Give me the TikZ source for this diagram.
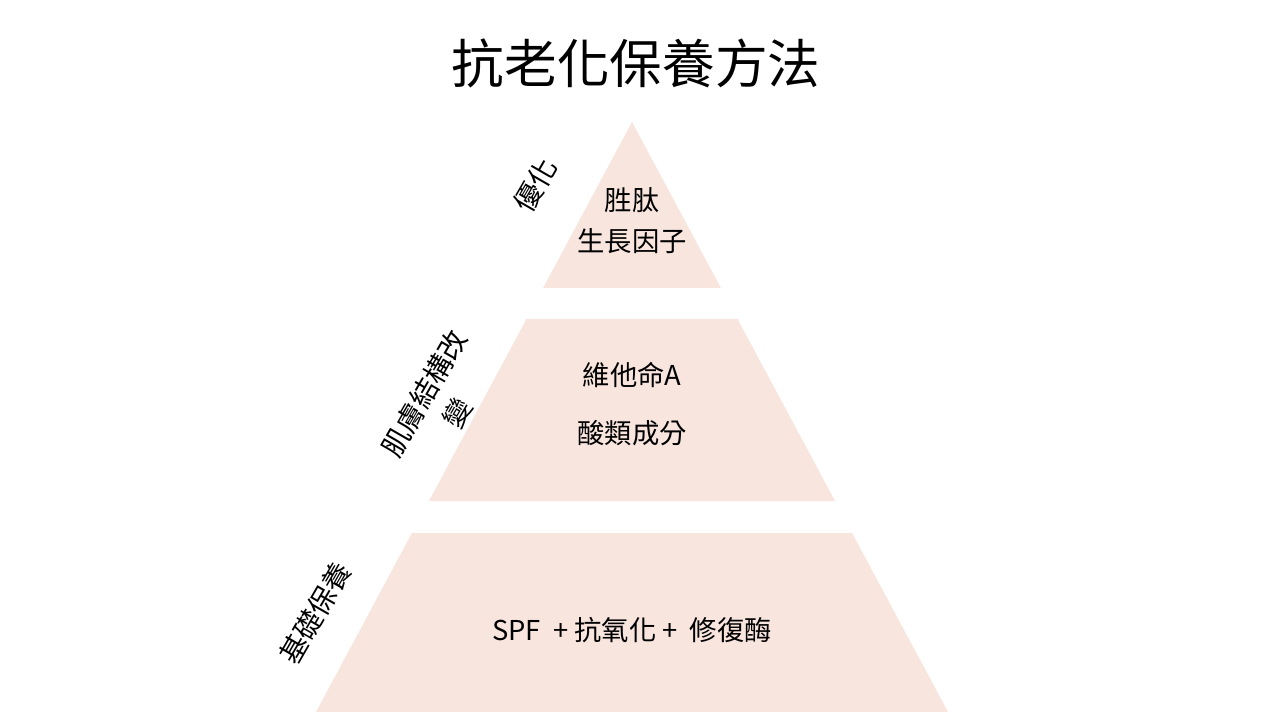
\documentclass[tikz,border=0pt]{standalone}
\usepackage{fontspec}
\setmainfont{Noto Sans CJK TC}
\definecolor{pyrfill}{RGB}{248,229,222}
\begin{document}
\begin{tikzpicture}[x=0.75pt,y=-0.75pt,
  tier/.style={fill=pyrfill,draw=none},
  title/.style={inner sep=0pt,font=\fontsize{39.5}{45}\selectfont},
  body/.style={inner sep=0pt,align=center,font=\fontsize{20.5}{25}\selectfont},
  side/.style={inner sep=0pt,align=center,rotate=60,font=\fontsize{21}{29}\selectfont}]
\useasboundingbox (0,0) rectangle (1270,712);
\fill[white] (0,0) rectangle (1270,712);
% tiers
\path[tier] (632,122) -- (720.9,288) -- (543.1,288) -- cycle;
\path[tier] (526.5,319) -- (737.5,319) -- (835,501) -- (429,501) -- cycle;
\path[tier] (412,533) -- (852,533) -- (948,712) -- (316,712) -- cycle;
% title
\node[title] (ttl) at (636,63) {抗老化保養方法};
% contents
\node[body] (t1a) at (632,200) {胜肽};
\node[body] (t1b) at (632,241) {生長因子};
\node[body] (t2a) at (632,375) {維他命A};
\node[body] (t2b) at (632,433) {酸類成分};
\node[body] (t3) at (632,630) {SPF\ \ +\ 抗氧化\ +\ \ 修復酶};
% side labels
\node[side] (s1) at (535,185) {優化};
\node[side] (s2) at (441,403) {肌膚結構改\\變};
\node[side] (s3) at (315,613) {基礎保養};
\end{tikzpicture}
\end{document}
